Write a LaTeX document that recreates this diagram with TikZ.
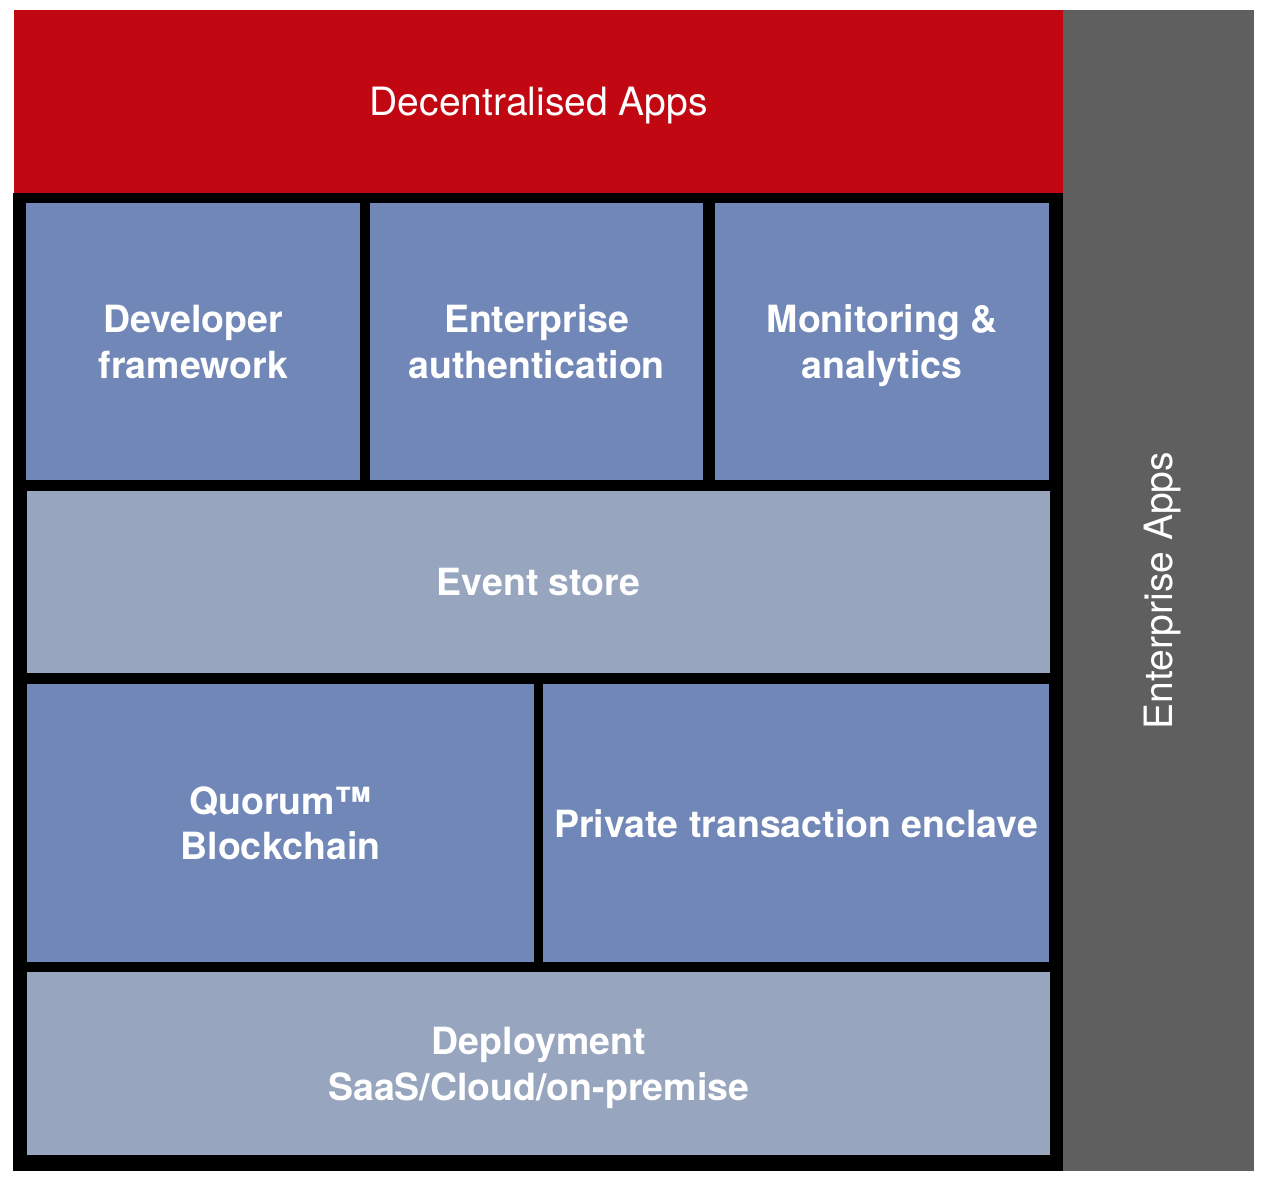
\documentclass[tikz,border=0pt]{standalone}
\usepackage{fontspec}
\setmainfont{TeX Gyre Heros}
\usetikzlibrary{positioning}
\definecolor{dappred}{HTML}{C10812}
\definecolor{entgray}{HTML}{5F5F5F}
\definecolor{layerblue}{HTML}{7087B7}
\definecolor{layerlight}{HTML}{97A5BF}

\begin{document}
\begin{tikzpicture}[x=1pt, y=-1pt,
    block/.style={anchor=north west, inner sep=0pt, align=center, text=white, text depth=0pt,
        font=\fontsize{39}{45}\selectfont},
    layer/.style={block, font=\bfseries\fontsize{37.5}{45.5}\selectfont}
]
    \useasboundingbox (0,0) rectangle (1270,1182);

    % Outer parts
    \node[block, fill=dappred, minimum width=1049, minimum height=183] (dapps) at (14,10) {Decentralised Apps};
    \node[block, fill=entgray, minimum width=191, minimum height=1161] (entapps) at (1063,10) {};
    \node[rotate=90, text=white, text depth=0pt, font=\fontsize{39}{45}\selectfont] (entlabel) at (entapps.center) {Enterprise Apps};
    \node[block, fill=black, minimum width=1050, minimum height=978] (frame) at (13,193) {};

    % Top row
    \node[layer, fill=layerblue, minimum width=334, minimum height=277] (devfw) at (26,203) {Developer\\framework};
    \node[layer, fill=layerblue, minimum width=333, minimum height=277] (entauth) at (370,203) {Enterprise\\authentication};
    \node[layer, fill=layerblue, minimum width=334, minimum height=277] (monitor) at (715,203) {Monitoring \&\\analytics};

    % Event store
    \node[layer, fill=layerlight, minimum width=1023, minimum height=182] (events) at (27,491) {Event store};

    % Chain row
    \node[layer, fill=layerblue, minimum width=507, minimum height=278] (quorum) at (27,684) {Quorum™\\Blockchain};
    \node[layer, fill=layerblue, minimum width=506, minimum height=278] (enclave) at (543,684) {Private transaction enclave};

    % Deployment
    \node[layer, fill=layerlight, minimum width=1023, minimum height=183] (deploy) at (27,972) {Deployment\\SaaS/Cloud/on-premise};
\end{tikzpicture}
\end{document}
